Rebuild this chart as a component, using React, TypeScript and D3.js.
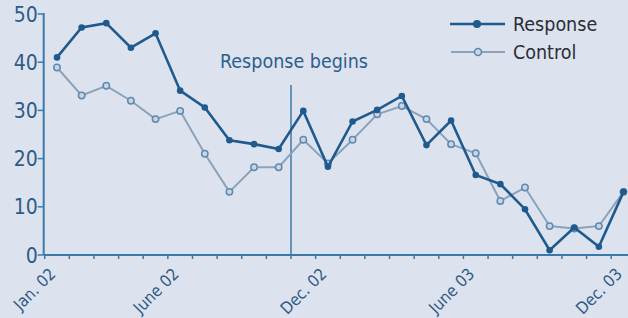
import React from "react";
import * as d3 from "d3";

const months = d3.range(24);
const response = [41, 47.2, 48.1, 43, 46, 34.1, 30.6, 23.8, 23, 22, 29.9, 18.3, 27.7, 30.1, 33, 22.8, 27.9, 16.6, 14.7, 9.5, 1, 5.7, 1.7, 13.1];
const control = [38.9, 33.1, 35.1, 32, 28.2, 29.9, 21, 13.1, 18.2, 18.2, 23.9, 19.0, 23.9, 29.2, 30.9, 28.2, 23.0, 21.1, 11.2, 14.0, 6.0, 5.5, 6.0, 13.1];
const yTicks = [0, 10, 20, 30, 40, 50];
const xLabels = [
  { m: 0, text: "Jan. 02" },
  { m: 5, text: "June 02" },
  { m: 11, text: "Dec. 02" },
  { m: 17, text: "June 03" },
  { m: 23, text: "Dec. 03" },
];
const responseStart = 10;

const W = 628;
const H = 318;
const FONT = "'DejaVu Sans Condensed', 'Liberation Sans Narrow', sans-serif";
const BG = "#dde3ee";
const AXIS = "#3b78aa";
const RESP = "#1f5a8e";
const CTRL = "#8ca2ba";
const TICKTXT = "#2f5a86";

export default function App() {
  const x = d3.scaleLinear().domain([0, 24]).range([44.7, 44.7 + 24 * 24.63]);
  const y = d3.scaleLinear().domain([0, 50]).range([255, 14]);
  const line = d3
    .line<number>()
    .x((_, i) => x(months[i] + 0.5))
    .y((d) => y(d));

  return (
    <svg
      width={W}
      height={H}
      style={{ position: "absolute", left: 0, top: 0, display: "block" }}
      fontFamily={FONT}
    >
      <rect x={0} y={0} width={W} height={H} fill={BG} />
      {/* axes */}
      <line x1={x(0) - 1} x2={W} y1={y(0)} y2={y(0)} stroke={AXIS} strokeWidth={2} />
      <line x1={x(0) - 1} x2={x(0) - 1} y1={y(50) - 1} y2={y(0)} stroke={AXIS} strokeWidth={2} />
      {yTicks.map((t) => (
        <g key={t}>
          <line x1={x(0) - 7} x2={x(0) - 1} y1={y(t)} y2={y(t)} stroke={AXIS} strokeWidth={1.5} />
          <text
            x={x(0) - 7}
            y={y(t) + 7.5}
            textAnchor="end"
            fontSize={21}
            fontWeight={500}
            fill={TICKTXT}
          >
            {t}
          </text>
        </g>
      ))}
      {months.map((m) => (
        <line key={m} x1={x(m)} x2={x(m)} y1={y(0)} y2={y(0) + 4} stroke={AXIS} strokeWidth={1.5} />
      ))}
      {xLabels.map((l) => (
        <text
          key={l.text}
          transform={`translate(${x(l.m) + 12},${y(0) + 20}) rotate(-45)`}
          textAnchor="end"
          fontSize={16.5}
          fontWeight={500}
          fill={TICKTXT}
        >
          {l.text}
        </text>
      ))}
      {/* response begins */}
      <line x1={x(responseStart)} x2={x(responseStart)} y1={85} y2={y(0)} stroke={AXIS} strokeWidth={1.5} />
      <text x={294} y={68} textAnchor="middle" fontSize={19.5} fill="#2d5e8e">
        Response begins
      </text>
      {/* control */}
      <path d={line(control) || ""} fill="none" stroke={CTRL} strokeWidth={2} />
      {control.map((v, i) => (
        <circle key={i} cx={x(months[i] + 0.5)} cy={y(v)} r={3.2} fill="#c9d5e5" stroke="#5f8ab0" strokeWidth={1.5} />
      ))}
      {/* response */}
      <path d={line(response) || ""} fill="none" stroke={RESP} strokeWidth={2.6} />
      {response.map((v, i) => (
        <circle key={i} cx={x(months[i] + 0.5)} cy={y(v)} r={3.3} fill={RESP} />
      ))}
      {/* legend */}
      <line x1={450} x2={505} y1={24} y2={24} stroke={RESP} strokeWidth={2.6} />
      <circle cx={477} cy={24} r={4} fill={RESP} />
      <text x={513} y={31} fontSize={19.5} fill="#2a2d36">Response</text>
      <line x1={451} x2={505} y1={52} y2={52} stroke={CTRL} strokeWidth={2} />
      <circle cx={478} cy={52} r={3.5} fill="#c9d5e5" stroke="#5f8ab0" strokeWidth={1.6} />
      <text x={513} y={59} fontSize={19.5} fill="#2a2d36">Control</text>
    </svg>
  );
}
